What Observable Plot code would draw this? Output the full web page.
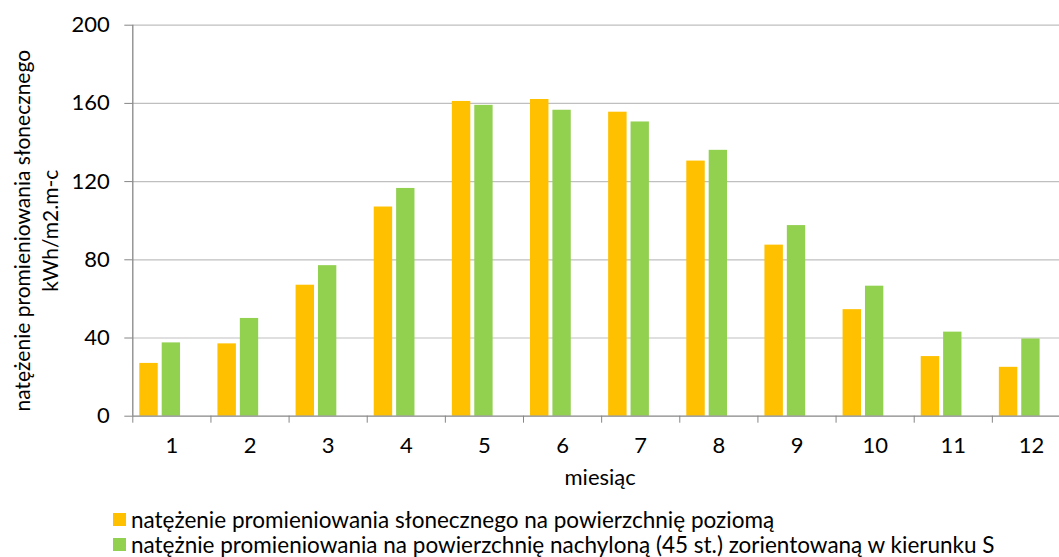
<!DOCTYPE html>
<html>
<head>
<meta charset="utf-8">
<script src="https://cdn.jsdelivr.net/npm/d3@7"></script>
<script src="https://cdn.jsdelivr.net/npm/@observablehq/plot@0.6"></script>
<style>
  html, body { margin: 0; padding: 0; background: #fff; }
  body { width: 1059px; height: 557px; overflow: hidden; font-family: Lato, "Open Sans", sans-serif; }
  #legend { font-size: 22.5px; color: #000; padding-left: 113px; margin-top: 2px; }
  #legend .row { display: flex; align-items: center; height: 25px; }
  #legend .sw { width: 13px; height: 13px; margin-right: 5px; }
</style>
</head>
<body>
<div id="chart"></div>
<div id="legend"></div>
<script>
const months = [1, 2, 3, 4, 5, 6, 7, 8, 9, 10, 11, 12];
const horizontal = [27, 37, 67, 107, 161, 162, 155.5, 130.5, 87.5, 54.5, 30.5, 25];
const tilted = [37.5, 50, 77, 116.5, 159, 156.5, 150.5, 136, 97.5, 66.5, 43, 39.5];
const seriesNames = [
  "natężenie promieniowania słonecznego na powierzchnię poziomą",
  "natężnie promieniowania na powierzchnię nachyloną (45 st.) zorientowaną w kierunku S"
];
const seriesColors = ["#FFC000", "#92D050"];
const yTicks = [0, 40, 80, 120, 160, 200];
const yTitle = "natężenie promieniowania słonecznego\nkWh/m2.m-c";
const xTitle = "miesiąc";

const boundaries = months.map(m => m - 0.5).concat([months[months.length - 1] + 0.5]);
const dataH = months.map((m, i) => ({month: m, value: horizontal[i]}));
const dataT = months.map((m, i) => ({month: m, value: tilted[i]}));

const chart = Plot.plot({
  width: 1059,
  height: 505,
  marginLeft: 132.3,
  marginRight: 0,
  marginTop: 24.7,
  marginBottom: 89.3,
  style: {fontFamily: "Lato, 'Open Sans', sans-serif", fontSize: "22px", color: "#000", background: "#fff"},
  x: {domain: [0.5, 12.5], range: [132.3, 1070]},
  y: {domain: [0, 200]},
  marks: [
    Plot.ruleY(yTicks.slice(1), {stroke: "#bfbfbf", strokeWidth: 1.2, strokeOpacity: 1}),
    Plot.rectY(dataH, {x1: d => d.month - 0.5, x2: d => d.month + 0.5, y: "value", fill: seriesColors[0], insetLeft: 7, insetRight: 52.7}),
    Plot.rectY(dataT, {x1: d => d.month - 0.5, x2: d => d.month + 0.5, y: "value", fill: seriesColors[1], insetLeft: 29.4, insetRight: 30.4}),
    Plot.ruleX([0.5], {stroke: "#868686", strokeWidth: 1.3}),
    Plot.ruleY([0], {stroke: "#868686", strokeWidth: 1.3}),
    Plot.axisY({ticks: yTicks, tickSize: 8, tickPadding: 15, stroke: "#868686", strokeOpacity: 1, label: null, fontSize: 22}),
    Plot.axisX({ticks: boundaries, tickSize: 7, tickFormat: () => "", stroke: "#868686", strokeOpacity: 1, label: null}),
    Plot.axisX({ticks: months, tickSize: 0, tickPadding: 21, tickFormat: d => String(d), label: null, fontSize: 22}),
    Plot.text([yTitle], {frameAnchor: "left", textAnchor: "middle", lineAnchor: "middle", rotate: -90, dx: -98, dy: 10, lineHeight: 1.33, fontSize: 21, fill: "#000"}),
    Plot.text([xTitle], {frameAnchor: "bottom", dy: 69, dx: 4, fontSize: 22, fill: "#000"})
  ]
});
document.getElementById("chart").appendChild(chart);

const legend = document.getElementById("legend");
seriesNames.forEach((name, i) => {
  const row = document.createElement("div");
  row.className = "row";
  const sw = document.createElement("span");
  sw.className = "sw";
  sw.style.background = seriesColors[i];
  const label = document.createElement("span");
  label.textContent = name;
  row.appendChild(sw);
  row.appendChild(label);
  legend.appendChild(row);
});
</script>
</body>
</html>
